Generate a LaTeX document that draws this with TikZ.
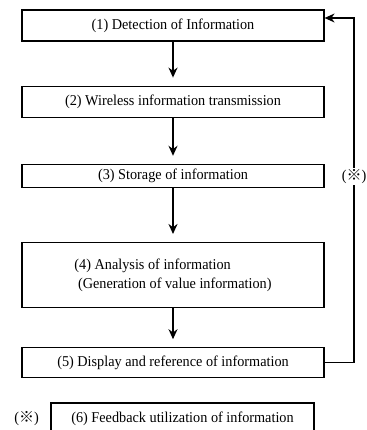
\documentclass[tikz,border=0pt]{standalone}
\usepackage{fontspec}
\setmainfont{Liberation Serif}[FakeStretch=0.95]
\newfontfamily\cjk{Noto Sans CJK JP}
\usetikzlibrary{arrows.meta,positioning}

\newcommand{\refmark}{({\cjk ※})}

\begin{document}
\begin{tikzpicture}[
  x=1pt, y=-1pt,
  stage/.style={draw, line width=1.2pt, minimum width=302pt, minimum height=31pt, inner sep=2pt, font=\fontsize{15}{18}\selectfont},
  arr/.style={-{Stealth[length=10pt, width=9pt]}, line width=1.6pt, shorten >=8pt},
  fb/.style={-{Stealth[length=10pt, width=9pt]}, line width=1.2pt},
]
  \useasboundingbox (0,0) rectangle (366,430);

  \node[stage] (detect) at (173,25.5) {(1) Detection of Information};
  \node[stage, below=44pt of detect] (wireless) {(2) Wireless information transmission};
  \node[stage, below=46pt of wireless, minimum height=23pt] (storage) {(3) Storage of information};
  \node[stage, below=54pt of storage, minimum height=65pt, align=left] (analysis) {(4) Analysis of information\\[1pt]\ (Generation of value information)};
  \node[stage, below=39pt of analysis, minimum height=30pt] (display) {(5) Display and reference of information};
  \node[stage, below=24pt of display, xshift=9.5pt, minimum width=263pt, minimum height=32pt] (feedback) {(6) Feedback utilization of information};
  \node[left=8pt of feedback, font=\fontsize{15}{18}\selectfont] (note) {\refmark};

  \draw[arr] (detect) -- (wireless);
  \draw[arr] (wireless) -- (storage);
  \draw[arr] (storage) -- (analysis);
  \draw[arr] (analysis) -- (display);

  % feedback loop back to the top
  \coordinate (corner) at (354,18);
  \draw[fb] (display.east) -| node[pos=0.77, fill=white, inner sep=1pt, font=\fontsize{15}{18}\selectfont] (loop) {\refmark} (corner) -- (detect.east |- corner);
\end{tikzpicture}
\end{document}
